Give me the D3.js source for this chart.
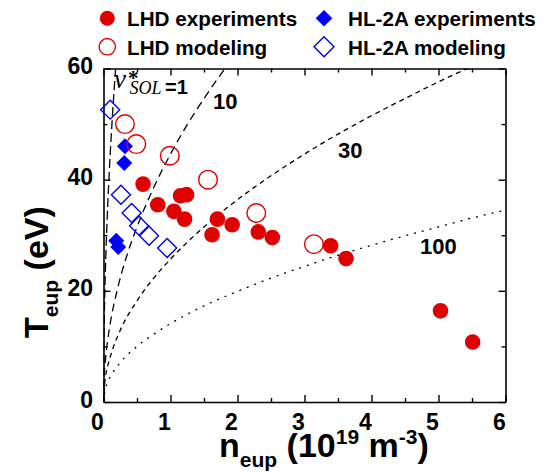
<!DOCTYPE html>
<html><head><meta charset="utf-8">
<script src="https://cdn.jsdelivr.net/npm/d3@7"></script>
<style>
body{margin:0;background:#fff}
svg{display:block}
text{font-family:"Liberation Sans",Arial,Helvetica,sans-serif;font-weight:bold;fill:#000}
</style>
</head><body>
<svg id="chart" width="553" height="472"></svg>
<script>
// ---- data ----
const lhdExpN = [0.59, 1.15, 1.24, 0.81, 1.05, 1.21, 1.70, 1.92, 1.62, 2.31, 2.52, 3.39, 3.62, 5.03, 5.51];
const lhdExpT = [39.2, 37.1, 37.3, 35.5, 34.3, 32.9, 32.9, 31.9, 30.1, 30.6, 29.6, 28.1, 25.8, 16.4, 10.8];
const lhdModN = [0.32, 0.49, 0.99, 1.56, 2.28, 3.14];
const lhdModT = [50.0, 46.4, 44.3, 40.0, 34.0, 28.4];
const hlExpN = [0.32, 0.31, 0.19, 0.22];
const hlExpT = [46.0, 43.0, 29.0, 27.9];
const hlModN = [0.10, 0.26, 0.42, 0.53, 0.68, 0.95];
const hlModT = [52.6, 37.3, 34.0, 31.7, 29.9, 27.7];

// collisionality contours nu*_SOL = 1, 10, 30, 100
const nu1N = [0, 0.002, 0.005, 0.01, 0.02, 0.035, 0.05, 0.075, 0.1, 0.13, 0.16, 0.19];
const nu1T = [0, 6.3, 10.0, 14.1, 19.9, 26.4, 31.5, 38.6, 44.6, 50.8, 56.4, 61.5];
const nu10N = [0, 0.01, 0.03, 0.06, 0.1, 0.2, 0.35, 0.5, 0.75, 1.0, 1.25, 1.5, 1.85];
const nu10T = [0, 4.5, 7.7, 10.9, 14.1, 19.9, 26.4, 31.5, 38.6, 44.6, 49.9, 54.6, 60.6];
const nu30N = [0, 0.02, 0.06, 0.12, 0.25, 0.5, 0.75, 1, 1.5, 2, 2.5, 3, 3.5, 4, 4.5, 5, 5.5];
const nu30T = [0, 3.6, 6.3, 8.9, 12.9, 18.2, 22.3, 25.7, 31.5, 36.4, 40.7, 44.6, 48.2, 51.5, 54.6, 57.6, 60.4];
const nu100N = [0, 0.02, 0.06, 0.12, 0.25, 0.5, 0.75, 1, 1.5, 2, 2.5, 3, 3.5, 4, 4.5, 5, 5.5, 6];
const nu100T = [0, 2.0, 3.5, 4.9, 7.1, 10.0, 12.2, 14.1, 17.3, 19.9, 22.3, 24.4, 26.4, 28.2, 29.9, 31.5, 33.1, 34.5];

const xTicks = [0, 1, 2, 3, 4, 5, 6];
const xMinor = [0.5, 1.5, 2.5, 3.5, 4.5, 5.5];
const yTicks = [0, 20, 40, 60];
const yMinor = [10, 30, 50];
const legendLabels = ["LHD experiments", "LHD modeling", "HL-2A experiments", "HL-2A modeling"];
const curveLabels = ["10", "30", "100"];

// ---- drawing ----
const RED = "#e00000", BLUE = "#0000ff";
const svg = d3.select("#chart");
svg.append("rect").attr("width", 553).attr("height", 472).attr("fill", "#fff");

const x = d3.scaleLinear().domain([0, 6]).range([103.5, 505.5]);
const y = d3.scaleLinear().domain([0, 60]).range([402, 68.5]);

svg.append("clipPath").attr("id", "clip").append("rect")
  .attr("x", x(0)).attr("y", y(60)).attr("width", x(6) - x(0)).attr("height", y(0) - y(60));

// curves
const line = d3.line().x(d => x(d[0])).y(d => y(d[1])).curve(d3.curveMonotoneX);
const curves = [
  {n: nu1N, t: nu1T, dash: "9,4"},
  {n: nu10N, t: nu10T, dash: "8,5"},
  {n: nu30N, t: nu30T, dash: "5,4"},
  {n: nu100N, t: nu100T, dash: "2,6"}
];
const cg = svg.append("g").attr("clip-path", "url(#clip)");
curves.forEach(c => {
  cg.append("path").datum(c.n.map((v, i) => [v, c.t[i]]))
    .attr("d", line).attr("fill", "none").attr("stroke", "#000")
    .attr("stroke-width", 1.3).attr("stroke-dasharray", c.dash);
});

// axes
function styleAxis(g) {
  g.select(".domain").attr("stroke", "#000").attr("stroke-width", 1.6);
  g.selectAll(".tick line").attr("stroke", "#000").attr("stroke-width", 1.4);
}
const fontTick = "23px";
const gB = svg.append("g").attr("transform", `translate(0,${y(0)})`)
  .call(d3.axisBottom(x).tickValues(xTicks).tickSize(-7).tickSizeOuter(0).tickFormat(d3.format("d")));
gB.selectAll("text").attr("y", 27.5).attr("dy", 0).attr("dx", -6.5)
  .style("font-size", fontTick).style("font-family", "Liberation Sans, Arial, sans-serif").style("font-weight", "bold");
styleAxis(gB);
const gBm = svg.append("g").attr("transform", `translate(0,${y(0)})`)
  .call(d3.axisBottom(x).tickValues(xMinor).tickSize(-4).tickSizeOuter(0).tickFormat(""));
gBm.select(".domain").remove(); styleAxis(gBm);

const gT = svg.append("g").attr("transform", `translate(0,${y(60)})`)
  .call(d3.axisTop(x).tickValues(xTicks).tickSize(-7).tickSizeOuter(0).tickFormat(""));
styleAxis(gT);
const gTm = svg.append("g").attr("transform", `translate(0,${y(60)})`)
  .call(d3.axisTop(x).tickValues(xMinor).tickSize(-4).tickSizeOuter(0).tickFormat(""));
gTm.select(".domain").remove(); styleAxis(gTm);

const gL = svg.append("g").attr("transform", `translate(${x(0)},0)`)
  .call(d3.axisLeft(y).tickValues(yTicks).tickSize(-7).tickSizeOuter(0).tickFormat(d3.format("d")));
gL.selectAll("text").attr("x", -10.5).attr("dy", 0).attr("y", 5)
  .style("font-size", fontTick).style("font-family", "Liberation Sans, Arial, sans-serif").style("font-weight", "bold");
styleAxis(gL);
const gLm = svg.append("g").attr("transform", `translate(${x(0)},0)`)
  .call(d3.axisLeft(y).tickValues(yMinor).tickSize(-4).tickSizeOuter(0).tickFormat(""));
gLm.select(".domain").remove(); styleAxis(gLm);

const gR = svg.append("g").attr("transform", `translate(${x(6)},0)`)
  .call(d3.axisRight(y).tickValues(yTicks).tickSize(-7).tickSizeOuter(0).tickFormat(""));
styleAxis(gR);
const gRm = svg.append("g").attr("transform", `translate(${x(6)},0)`)
  .call(d3.axisRight(y).tickValues(yMinor).tickSize(-4).tickSizeOuter(0).tickFormat(""));
gRm.select(".domain").remove(); styleAxis(gRm);

// markers
const diamond = (h) => `M0,${-h}L${h},0L0,${h}L${-h},0Z`;
const pts = (N, T) => N.map((v, i) => [v, T[i]]);

svg.append("g").selectAll("path").data(pts(hlModN, hlModT)).join("path")
  .attr("transform", d => `translate(${x(d[0])},${y(d[1])})`)
  .attr("d", diamond(9.5)).attr("fill", "none").attr("stroke", BLUE).attr("stroke-width", 1.4);
svg.append("g").selectAll("path").data(pts(hlExpN, hlExpT)).join("path")
  .attr("transform", d => `translate(${x(d[0])},${y(d[1])})`)
  .attr("d", diamond(8)).attr("fill", BLUE);
svg.append("g").selectAll("circle").data(pts(lhdModN, lhdModT)).join("circle")
  .attr("cx", d => x(d[0])).attr("cy", d => y(d[1])).attr("r", 9.3)
  .attr("fill", "none").attr("stroke", RED).attr("stroke-width", 1.4);
svg.append("g").selectAll("circle").data(pts(lhdExpN, lhdExpT)).join("circle")
  .attr("cx", d => x(d[0])).attr("cy", d => y(d[1])).attr("r", 7.8).attr("fill", RED);

// curve labels
const lab = svg.append("g").style("font-size", "22px");
lab.append("text").attr("x", 213).attr("y", 109).text(curveLabels[0]);
lab.append("text").attr("x", 338).attr("y", 158).text(curveLabels[1]);
lab.append("text").attr("x", 420).attr("y", 254).text(curveLabels[2]);

// nu*_SOL = 1 label (one text element)
const nl = svg.append("text").attr("x", 114).attr("y", 88);
nl.append("tspan").style("font-family", "Liberation Serif, Times New Roman, serif").style("font-style", "italic")
  .style("font-weight", "normal").style("font-size", "27px").text("ν");
nl.append("tspan").attr("x", 128).attr("dy", -3).style("font-family", "Liberation Serif, Times New Roman, serif")
  .style("font-weight", "bold").style("font-size", "21px").text("*");
nl.append("tspan").attr("x", 129.5).attr("dy", 9).style("font-family", "Liberation Serif, Times New Roman, serif").style("font-style", "italic")
  .style("font-weight", "normal").style("font-size", "18px").text("SOL");
nl.append("tspan").attr("x", 165).attr("dy", 0).style("font-size", "20px").text("=1");

// axis titles
const xt = svg.append("text").attr("x", 219).attr("y", 457).style("font-size", "34px");
xt.append("tspan").text("n");
xt.append("tspan").attr("dy", 10).style("font-size", "21px").text("eup");
xt.append("tspan").attr("dy", -10).text(" (10");
xt.append("tspan").attr("dy", -13).style("font-size", "21px").text("19");
xt.append("tspan").attr("dy", 13).text(" m");
xt.append("tspan").attr("dy", -13).style("font-size", "21px").text("-3");
xt.append("tspan").attr("dy", 13).text(")");

const yt = svg.append("text").attr("transform", "translate(48,338) rotate(-90)").style("font-size", "34px");
yt.append("tspan").text("T");
yt.append("tspan").attr("dy", 10).style("font-size", "21px").text("eup");
yt.append("tspan").attr("dy", -10).text(" (eV)");

// legend
const lg = svg.append("g").style("font-size", "20.7px");
lg.append("circle").attr("cx", 107.3).attr("cy", 18.3).attr("r", 7.5).attr("fill", RED);
lg.append("text").attr("x", 127).attr("y", 26).text(legendLabels[0]);
lg.append("circle").attr("cx", 107.3).attr("cy", 46.7).attr("r", 8.2).attr("fill", "none").attr("stroke", RED).attr("stroke-width", 1.4);
lg.append("text").attr("x", 127).attr("y", 54.5).text(legendLabels[1]);
lg.append("path").attr("transform", "translate(324,18.3)").attr("d", diamond(8.3)).attr("fill", BLUE);
lg.append("text").attr("x", 348).attr("y", 26).text(legendLabels[2]);
lg.append("path").attr("transform", "translate(324,46.7)").attr("d", diamond(10)).attr("fill", "none").attr("stroke", BLUE).attr("stroke-width", 1.4);
lg.append("text").attr("x", 348).attr("y", 54.5).text(legendLabels[3]);
</script>
</body></html>
